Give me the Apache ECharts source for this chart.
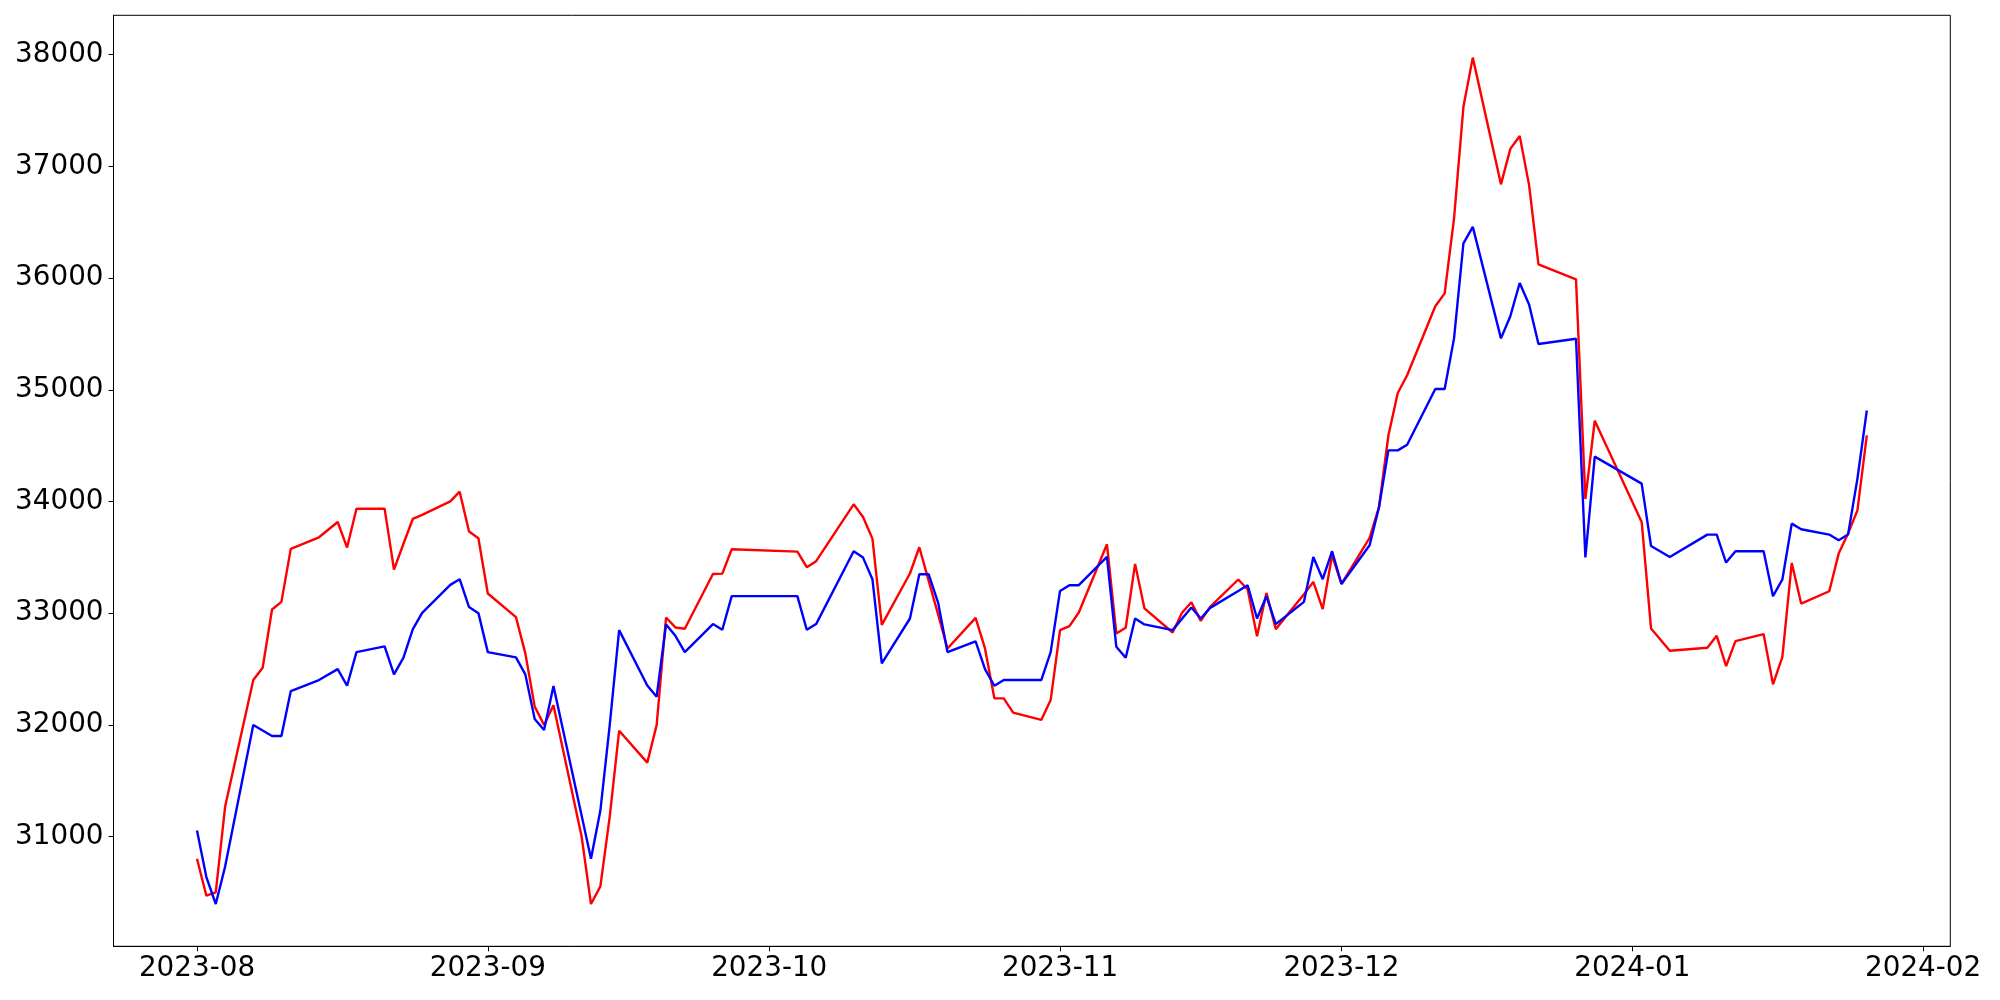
<!DOCTYPE html>
<html><head><meta charset="utf-8">
<script src="https://cdn.jsdelivr.net/npm/echarts@6/dist/echarts.min.js"></script>
<style>html,body{margin:0;padding:0;background:#fff}#c{width:2000px;height:1000px}</style>
</head><body><div id="c"></div>
<script>
const dates = [
'2023-08-01','2023-08-02','2023-08-03','2023-08-04','2023-08-07','2023-08-08','2023-08-09','2023-08-10','2023-08-11','2023-08-14','2023-08-16','2023-08-17','2023-08-18','2023-08-21','2023-08-22','2023-08-23','2023-08-24','2023-08-25','2023-08-28','2023-08-29','2023-08-30','2023-08-31',
'2023-09-01','2023-09-04','2023-09-05','2023-09-06','2023-09-07','2023-09-08','2023-09-11','2023-09-12','2023-09-13','2023-09-14','2023-09-15','2023-09-18','2023-09-19','2023-09-20','2023-09-21','2023-09-22','2023-09-25','2023-09-26','2023-09-27',
'2023-10-04','2023-10-05','2023-10-06','2023-10-10','2023-10-11','2023-10-12','2023-10-13','2023-10-16','2023-10-17','2023-10-18','2023-10-19','2023-10-20','2023-10-23','2023-10-24','2023-10-25','2023-10-26','2023-10-27','2023-10-30','2023-10-31',
'2023-11-01','2023-11-02','2023-11-03','2023-11-06','2023-11-07','2023-11-08','2023-11-09','2023-11-10','2023-11-13','2023-11-14','2023-11-15','2023-11-16','2023-11-17','2023-11-20','2023-11-21','2023-11-22','2023-11-23','2023-11-24','2023-11-27','2023-11-28','2023-11-29','2023-11-30',
'2023-12-01','2023-12-04','2023-12-05','2023-12-06','2023-12-07','2023-12-08','2023-12-11','2023-12-12','2023-12-13','2023-12-14','2023-12-15','2023-12-18','2023-12-19','2023-12-20','2023-12-21','2023-12-22','2023-12-26','2023-12-27','2023-12-28',
'2024-01-02','2024-01-03','2024-01-05','2024-01-09','2024-01-10','2024-01-11','2024-01-12','2024-01-15','2024-01-16','2024-01-17','2024-01-18','2024-01-19','2024-01-22','2024-01-23','2024-01-24','2024-01-25','2024-01-26'
];
const redValues = [
30803,30472,30501,31270,32402,32512,33034,33102,33576,33680,33817,33588,33936,33936,33391,33620,33844,33880,34002,34088,33731,33671,
33177,32965,32641,32164,32000,32176,31002,30398,30555,31181,31949,31663,32000,32962,32873,32861,33352,33355,33573,
33552,33412,33466,33975,33862,33668,32896,33356,33591,33290,32990,32685,32959,32685,32238,32238,32110,32045,32223,
32849,32885,33007,33617,32819,32870,33442,33043,32828,33004,33099,32932,33057,33302,33213,32795,33182,32858,33171,33281,33037,33519,
33262,33675,33949,34591,34971,35130,35748,35863,36534,37533,37973,36839,37156,37272,36832,36122,35989,34022,34723,
33817,32864,32664,32691,32798,32527,32751,32813,32364,32610,33450,33087,33197,33534,33713,33921,34592
];
const blueValues = [
31056,30639,30398,30734,32000,31950,31902,31902,32304,32402,32500,32351,32652,32703,32453,32601,32855,33004,33254,33305,33055,33001,
32652,32605,32453,32054,31955,32349,31190,30803,31234,32000,32849,32353,32253,32900,32798,32652,32903,32852,33153,
33153,32852,32903,33555,33498,33305,32551,32953,33349,33349,33096,32652,32748,32500,32351,32402,32402,32402,32652,
33200,33251,33251,33504,32700,32601,32953,32900,32849,32950,33052,32953,33048,33200,33251,32953,33153,32903,33102,33504,33305,33555,
33262,33609,33949,34458,34458,34508,35007,35007,35460,36310,36458,35460,35659,35956,35764,35410,35457,33499,34402,
34160,33602,33504,33704,33704,33454,33555,33555,33153,33302,33802,33752,33704,33653,33704,34205,34815
];
const yTicks = [31000,32000,33000,34000,35000,36000,37000,38000];
const xTickLabels = ['2023-08','2023-09','2023-10','2023-11','2023-12','2024-01','2024-02'];

function ts(s){ const p = s.split('-').map(Number); return new Date(p[0], p[1]-1, p[2] || 1).getTime(); }
const xs = dates.map(ts);
const xTickValues = xTickLabels.map(ts);
const labelMap = {}; xTickValues.forEach((v,i)=>{ labelMap[v] = xTickLabels[i]; });

const xSpan = xs[xs.length-1] - xs[0];
const xMin = xs[0] - 0.05*xSpan, xMax = xs[xs.length-1] + 0.05*xSpan;
const allY = redValues.concat(blueValues);
const yLo = Math.min(...allY), yHi = Math.max(...allY), ySpan = yHi - yLo;
const yMin = yLo - 0.05*ySpan, yMax = yHi + 0.05*ySpan;

const FONT = {fontFamily:'DejaVu Sans', fontSize:27.8, color:'#000'};
const chart = echarts.init(document.getElementById('c'), null, {renderer:'canvas'});
chart.setOption({
  animation:false,
  backgroundColor:'#fff',
  grid:{left:113.5, top:15.3, width:1836.8, height:931, show:true, borderColor:'#000', borderWidth:1, backgroundColor:'transparent'},
  xAxis:{type:'value', min:xMin, max:xMax, splitLine:{show:false},
    axisLine:{show:true, onZero:false, lineStyle:{color:'#000', width:1}},
    axisTick:{show:true, length:5, lineStyle:{color:'#000', width:1}, customValues:xTickValues},
    axisLabel:Object.assign({margin:8, customValues:xTickValues, formatter:(v)=>labelMap[v] || ''}, FONT)},
  yAxis:{type:'value', min:yMin, max:yMax, splitLine:{show:false},
    axisLine:{show:true, onZero:false, lineStyle:{color:'#000', width:1}},
    axisTick:{show:true, length:5, lineStyle:{color:'#000', width:1}, customValues:yTicks},
    axisLabel:Object.assign({margin:10, customValues:yTicks, formatter:(v)=>String(Math.round(v))}, FONT)},
  series:[
    {type:'line', name:'red', data:xs.map((x,i)=>[x, redValues[i]]), showSymbol:false, lineStyle:{color:'#ff0000', width:2.4}, itemStyle:{color:'#ff0000'}, z:2},
    {type:'line', name:'blue', data:xs.map((x,i)=>[x, blueValues[i]]), showSymbol:false, lineStyle:{color:'#0000ff', width:2.4}, itemStyle:{color:'#0000ff'}, z:3}
  ]
});
</script></body></html>
